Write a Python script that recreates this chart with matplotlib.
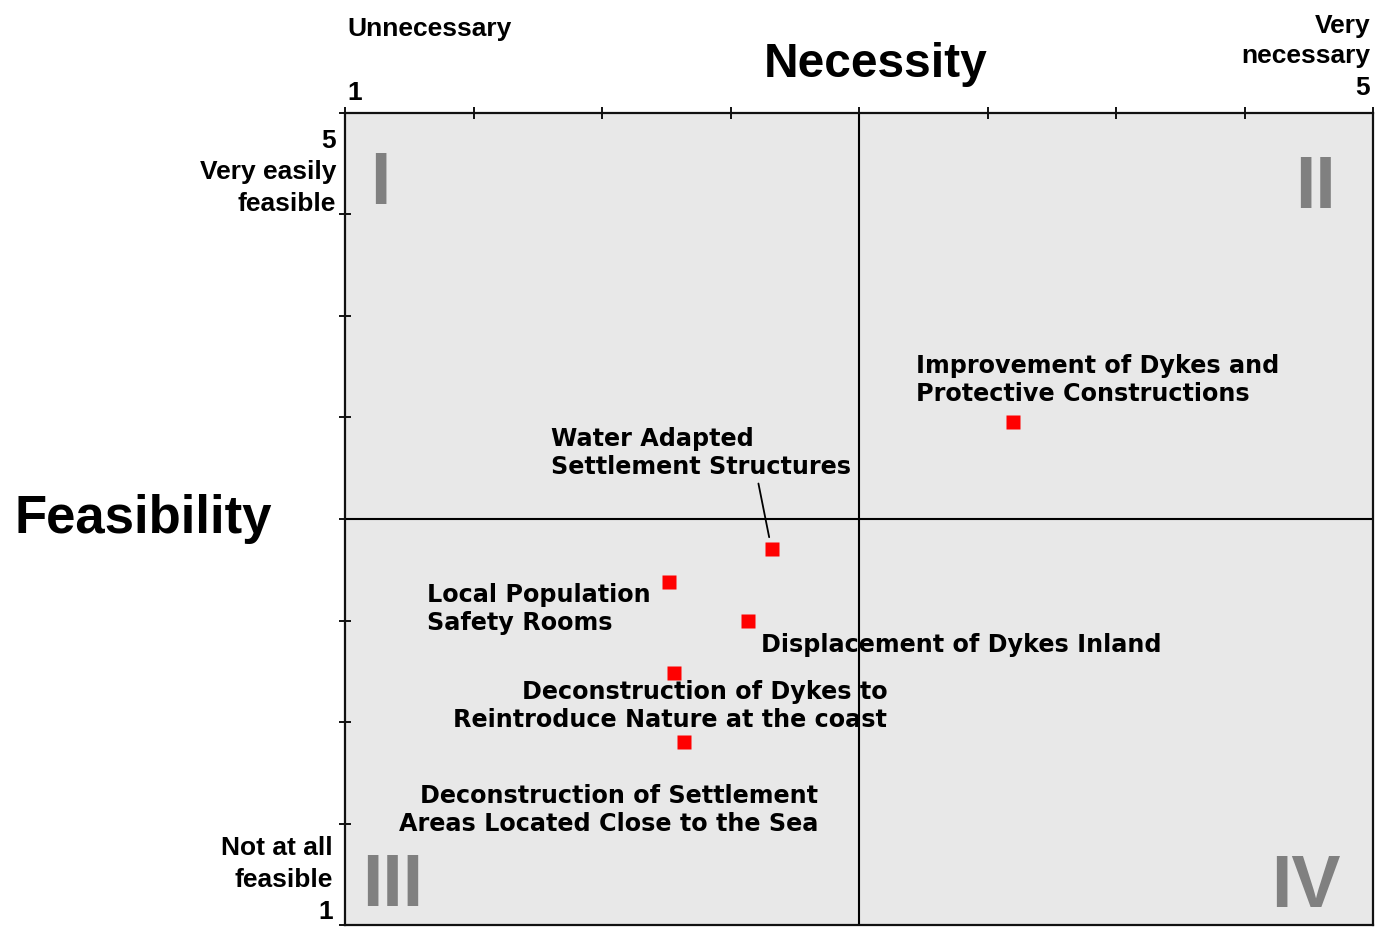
import matplotlib
matplotlib.use('Agg')
import matplotlib.pyplot as plt
import numpy as np

# Data: measures rated by necessity (x) and feasibility (y), 1..5
measures = ['Improvement of Dykes and\nProtective Constructions',
            'Water Adapted\nSettlement Structures',
            'Local Population\nSafety Rooms',
            'Displacement of Dykes Inland',
            'Deconstruction of Dykes to\nReintroduce Nature at the coast',
            'Deconstruction of Settlement\nAreas Located Close to the Sea']
necessity = [3.60, 2.66, 2.26, 2.57, 2.28, 2.32]
feasibility = [3.48, 2.85, 2.69, 2.50, 2.24, 1.90]

# label placement (data coords) and alignment
label_pos = [(3.22, 3.685), (1.80, 3.325), (1.32, 2.557),
             (2.62, 2.379), (3.11, 2.079), (2.84, 1.567)]
label_ha = ['left', 'left', 'left', 'left', 'right', 'right']

W, H = 1383, 930
fig = plt.figure(figsize=(W / 100, H / 100), dpi=100)
ax = fig.add_axes([345 / W, 1 - 925 / H, 1028 / W, 812 / H])
ax.set_facecolor('#e8e8e8')
ax.set_xlim(1, 5)
ax.set_ylim(1, 5)

ticks = np.arange(1, 5.01, 0.5)
ax.set_xticks(ticks)
ax.set_yticks(ticks)
ax.xaxis.tick_top()
ax.tick_params(axis='both', direction='inout', length=8, width=1.3,
               labeltop=False, labelleft=False, labelbottom=False)
for s in ax.spines.values():
    s.set_linewidth(1.6)
    s.set_color('#111111')

# quadrant lines
ax.axvline(3, color='black', lw=1.5)
ax.axhline(3, color='black', lw=1.5)

ax.plot(necessity, feasibility, 's', color='#ff0000', ms=10, mec='none')

lab_font = dict(family='DejaVu Sans', weight='bold', size=17.2)
for i, txt in enumerate(measures):
    if i == 1:
        ax.annotate(txt, xy=(necessity[i], feasibility[i]), xytext=label_pos[i],
                    ha=label_ha[i], va='center', linespacing=1.25,
                    arrowprops=dict(arrowstyle='-', color='black', lw=1.3,
                                    relpos=(0.69, 0.0), shrinkA=1, shrinkB=9),
                    **lab_font)
    else:
        ax.text(label_pos[i][0], label_pos[i][1], txt, ha=label_ha[i],
                va='center', linespacing=1.25, **lab_font)

# quadrant numerals
num_font = dict(family='Liberation Sans', weight='bold', size=53, color='#808080')
ax.text(0.034, 0.888, 'I', transform=ax.transAxes, ha='center', va='baseline', **num_font)
ax.text(0.9436, 0.883, 'II', transform=ax.transAxes, ha='center', va='baseline', **num_font)
ax.text(0.0467, 0.0234, 'III', transform=ax.transAxes, ha='center', va='baseline', **num_font)
ax.text(0.935, 0.0222, 'IV', transform=ax.transAxes, ha='center', va='baseline', **num_font)

# axis annotations in pixel positions
ax_font = dict(family='Liberation Sans', weight='bold', size=19, color='black')
def ftext(px, py, s, ha='left', **kw):
    fig.text(px / W, 1 - py / H, s, ha=ha, va='baseline', **kw)

ftext(347, 36, 'Unnecessary', **ax_font)
ftext(347, 100, '1', **ax_font)
ftext(1370, 33, 'Very', ha='right', **ax_font)
ftext(1370, 63, 'necessary', ha='right', **ax_font)
ftext(1370, 95, '5', ha='right', **ax_font)
ftext(876, 77, 'Necessity', ha='center', family='Liberation Sans', weight='bold', size=34.5)

ftext(336, 148, '5', ha='right', **ax_font)
ftext(336, 179, 'Very easily', ha='right', **ax_font)
ftext(336, 211, 'feasible', ha='right', **ax_font)
ftext(333, 855, 'Not at all', ha='right', **ax_font)
ftext(333, 887, 'feasible', ha='right', **ax_font)
ftext(333, 919, '1', ha='right', **ax_font)
ftext(14, 533, 'Feasibility', family='Liberation Sans', weight='bold', size=38)

fig.savefig('out.png', dpi=100, facecolor='white')
